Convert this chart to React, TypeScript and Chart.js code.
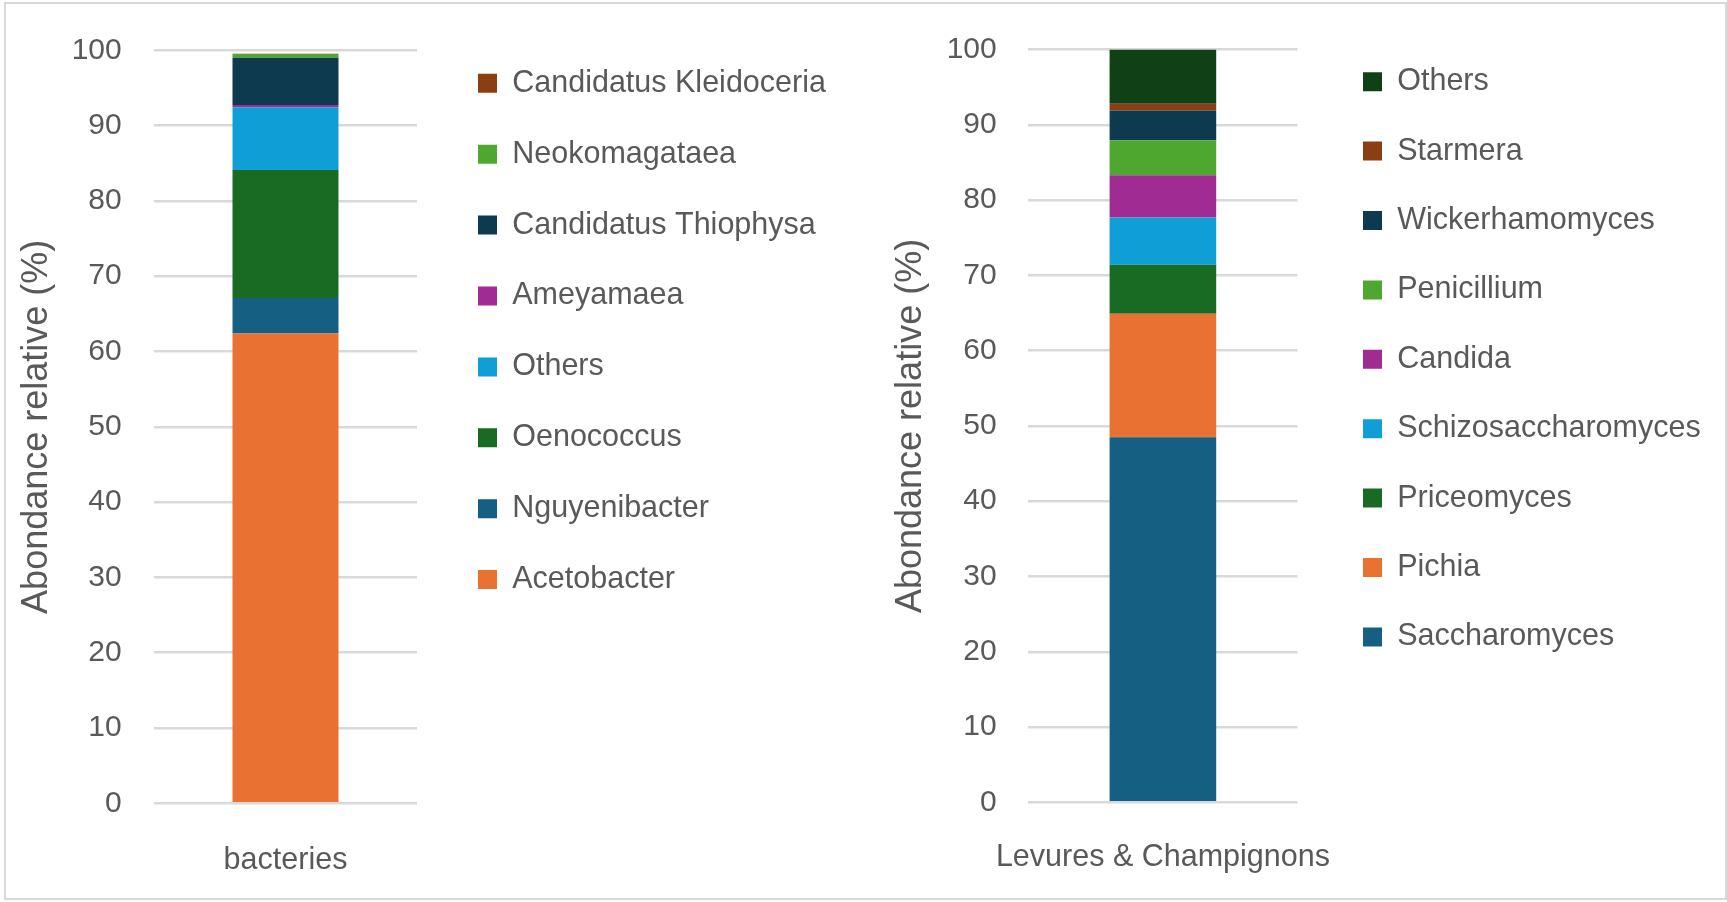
import React, { useEffect, useRef } from 'react';
import { Chart, registerables } from 'chart.js';

Chart.register(...registerables);

const FONT = "'Liberation Sans', Arial, sans-serif";
const TEXT = '#595959';
const GRID = '#D9D9D9';

// ---- data ----
const axisTitle = 'Abondance relative (%)';
const yMin = 0;
const yMax = 100;
const yStep = 10;

const bacteriaCategories = ['bacteries'];
const bacteriaSeries = [
  'Acetobacter',
  'Nguyenibacter',
  'Oenococcus',
  'Others',
  'Ameyamaea',
  'Candidatus Thiophysa',
  'Neokomagataea',
  'Candidatus Kleidoceria',
];
const bacteriaValues = [62.4, 4.7, 17.0, 8.35, 0.3, 6.25, 0.5, 0.05];
const bacteriaColors = ['#E97132', '#156082', '#196B24', '#0F9ED5', '#A02B93', '#0D3A4E', '#4EA72E', '#8B3E12'];

const fungiCategories = ['Levures & Champignons'];
const fungiSeries = [
  'Saccharomyces',
  'Pichia',
  'Priceomyces',
  'Schizosaccharomyces',
  'Candida',
  'Penicillium',
  'Wickerhamomyces',
  'Starmera',
  'Others',
];
const fungiValues = [48.5, 16.4, 6.5, 6.3, 5.6, 4.65, 3.95, 0.9, 7.2];
const fungiColors = ['#156082', '#E97132', '#196B24', '#0F9ED5', '#A02B93', '#4EA72E', '#0D3A4E', '#8B3E12', '#0F4016'];

// ---- layout (sizes in px) ----
type Layout = {
  width: number;
  height: number;
  yAxisWidth: number;
  titlePad: number;
  tickPad: number;
  xAxisHeight: number;
  xLabelPad: number;
  padTop: number;
  topSpacer: number;
  rightSpacer: number;
  legendPad: number;
  legendMaxWidth: number;
  padRight: number;
  barPct: number;
};

const layoutA: Layout = {
  width: 870,
  height: 902,
  yAxisWidth: 154,
  titlePad: 15.9,
  tickPad: 32.3,
  xAxisHeight: 98.7,
  xLabelPad: 31.1,
  padTop: 27.65,
  topSpacer: 21.65,
  rightSpacer: 20.6,
  legendPad: 40.4,
  legendMaxWidth: 395,
  padRight: 37.4,
  barPct: 0.403,
};

const layoutB: Layout = {
  width: 857,
  height: 902,
  yAxisWidth: 158.3,
  titlePad: 19.4,
  tickPad: 31.6,
  xAxisHeight: 99.7,
  xLabelPad: 29.4,
  padTop: 27.55,
  topSpacer: 21.75,
  rightSpacer: 26.6,
  legendPad: 38.9,
  legendMaxWidth: 383,
  padRight: 19.9,
  barPct: 0.396,
};

function StackedChart(props: {
  categories: string[];
  series: string[];
  values: number[];
  colors: string[];
  L: Layout;
  left: number;
}) {
  const ref = useRef<HTMLCanvasElement | null>(null);
  const { categories, series, values, colors, L, left } = props;

  useEffect(() => {
    if (!ref.current) return;
    const chart = new Chart(ref.current, {
      type: 'bar',
      data: {
        labels: categories,
        datasets: series.map((name, i) => ({
          label: name,
          data: [values[i]],
          backgroundColor: colors[i],
          borderWidth: 0,
          barPercentage: L.barPct,
          categoryPercentage: 1,
          xAxisID: 'x',
          yAxisID: 'y',
        })),
      },
      options: {
        animation: false,
        responsive: false,
        maintainAspectRatio: false,
        events: [],
        layout: { padding: { top: L.padTop, right: L.padRight, bottom: 0, left: 0 } },
        plugins: {
          legend: {
            position: 'right',
            align: 'start',
            reverse: true,
            maxWidth: L.legendMaxWidth,
            labels: {
              boxWidth: 19,
              boxHeight: 19,
              padding: L.legendPad,
              color: TEXT,
              font: { family: FONT, size: 30.5 },
            },
          },
          tooltip: { enabled: false },
        },
        scales: {
          x: {
            type: 'category',
            stacked: true,
            position: 'bottom',
            grid: { display: false },
            border: { display: false },
            ticks: {
              color: TEXT,
              font: { family: FONT, size: 30.5 },
              padding: L.xLabelPad,
              maxRotation: 0,
              autoSkip: false,
            },
            afterFit: (s: any) => {
              s.height = L.xAxisHeight;
            },
          },
          y: {
            type: 'linear',
            stacked: true,
            position: 'left',
            min: yMin,
            max: yMax,
            ticks: {
              stepSize: yStep,
              color: TEXT,
              font: { family: FONT, size: 30 },
              padding: L.tickPad,
            },
            grid: { color: GRID, lineWidth: 2.5, drawTicks: false },
            border: { display: false },
            title: {
              display: true,
              text: axisTitle,
              color: TEXT,
              font: { family: FONT, size: 36 },
              padding: { top: L.titlePad, bottom: 0 },
            },
            afterFit: (s: any) => {
              s.width = L.yAxisWidth;
            },
          },
          xTop: {
            type: 'category',
            position: 'top',
            display: true,
            grid: { display: false },
            border: { display: false },
            ticks: { display: false },
            afterFit: (s: any) => {
              s.height = L.topSpacer;
            },
          },
          yRight: {
            type: 'linear',
            position: 'right',
            display: true,
            grid: { display: false },
            border: { display: false },
            ticks: { display: false },
            afterFit: (s: any) => {
              s.width = L.rightSpacer;
            },
          },
        },
      } as any,
    });
    return () => chart.destroy();
  }, []);

  return (
    <canvas
      ref={ref}
      width={L.width}
      height={L.height}
      style={{ position: 'absolute', left, top: 0, width: L.width, height: L.height }}
    />
  );
}

export default function App() {
  return (
    <div style={{ position: 'absolute', left: 0, top: 0, width: 1727, height: 902, background: '#ffffff', overflow: 'hidden' }}>
      <StackedChart
        categories={bacteriaCategories}
        series={bacteriaSeries}
        values={bacteriaValues}
        colors={bacteriaColors}
        L={layoutA}
        left={0}
      />
      <StackedChart
        categories={fungiCategories}
        series={fungiSeries}
        values={fungiValues}
        colors={fungiColors}
        L={layoutB}
        left={870}
      />
      <div
        style={{
          position: 'absolute',
          left: 4,
          top: 2,
          width: 1723,
          height: 898,
          boxSizing: 'border-box',
          border: '2px solid #D9D9D9',
          pointerEvents: 'none',
        }}
      />
    </div>
  );
}
